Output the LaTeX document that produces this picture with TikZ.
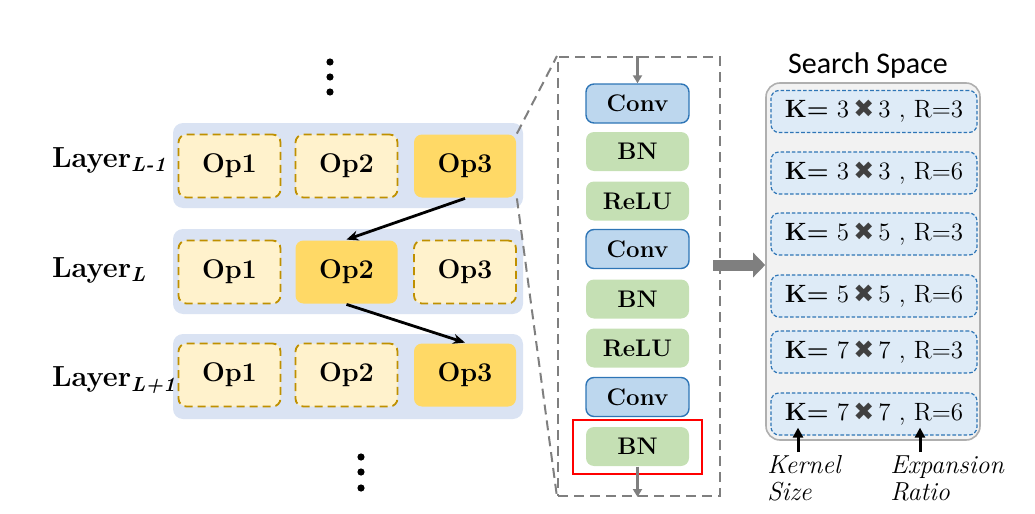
\documentclass[tikz,border=0pt]{standalone}
\usepackage{fontspec}
\newfontfamily\carlito{Carlito}
\newfontfamily\dejavu{DejaVu Sans}
\usetikzlibrary{arrows.meta}
\definecolor{layerbg}{HTML}{DAE3F3}
\definecolor{opfill}{HTML}{FFF2CC}
\definecolor{opline}{HTML}{BF9000}
\definecolor{opgold}{HTML}{FFD966}
\definecolor{convfill}{HTML}{BDD7EE}
\definecolor{convline}{HTML}{2E75B6}
\definecolor{bnfill}{HTML}{C5E0B4}
\definecolor{ssfill}{HTML}{F2F2F2}
\definecolor{ssline}{HTML}{AFAFAF}
\definecolor{itemfill}{HTML}{DEEBF7}
\definecolor{arrowgray}{HTML}{7F7F7F}
\newcommand{\ksr}[2]{\textbf{K=} #1\,{\dejavu\color{black!75}\fontsize{12.5}{14}\selectfont ✖}\,#1 , R=#2}
\begin{document}
\begin{tikzpicture}[x=0.5pt,y=-0.5pt,
    layer/.style={fill=layerbg,rounded corners=5pt,minimum width=175pt,minimum height=42.5pt},
    op/.style={draw=opline,dash pattern=on 4pt off 2.5pt,line width=0.9pt,fill=opfill,rounded corners=4pt,minimum width=51pt,minimum height=31.5pt,font=\bfseries\fontsize{13.5}{16}\selectfont},
    opsel/.style={op,draw=none,fill=opgold},
    lab/.style={anchor=west,font=\bfseries\fontsize{14.5}{18}\selectfont},
    conv/.style={draw=convline,line width=0.7pt,fill=convfill,rounded corners=4pt,minimum width=51.5pt,minimum height=19.5pt,font=\bfseries\fontsize{12}{14}\selectfont},
    bn/.style={conv,draw=none,fill=bnfill},
    item/.style={draw=convline,dash pattern=on 1.8pt off 1pt,line width=0.6pt,fill=itemfill,rounded corners=4pt,minimum width=103pt,minimum height=21pt,font=\fontsize{12.5}{15}\selectfont},
    pick/.style={-{Stealth[length=6pt,width=5pt]},line width=1.4pt},
    flow/.style={-{Triangle[length=4pt,width=4.5pt]},arrowgray,line width=1.4pt},
    uparrow/.style={-{Triangle[length=5pt,width=5pt]},line width=1.5pt}]
    \useasboundingbox (0,0) rectangle (1035,514);

    \foreach \y in {62,77,92} \fill (330,\y) circle (1.8pt);
    \foreach \y in {457,472,488} \fill (361,\y) circle (1.8pt);

    \node[layer] at (348,165.5) (row1) {};
    \node[layer] at (348,271.5) (row2) {};
    \node[layer] at (348,376.5) (row3) {};

    \node[op] at (229.5,166) (op11) {Op1};
    \node[op] at (346.5,166) (op12) {Op2};
    \node[opsel] at (465,166) (op13) {Op3};
    \node[op] at (229.5,272) (op21) {Op1};
    \node[opsel] at (346.5,272) (op22) {Op2};
    \node[op] at (465,272) (op23) {Op3};
    \node[op] at (229.5,375) (op31) {Op1};
    \node[op] at (346.5,375) (op32) {Op2};
    \node[opsel] at (465,375) (op33) {Op3};

    \node[lab] at (45,160) (lab1) {Layer\textsubscript{\textit{L-1}}};
    \node[lab] at (45,270) (lab2) {Layer\textsubscript{\textit{L}}};
    \node[lab] at (45,380) (lab3) {Layer\textsubscript{\textit{L+1}}};

    \draw[pick] (op13.south) -- (op22.north);
    \draw[pick] (op22.south) -- (op33.north);

    \node[draw=arrowgray,line width=1pt,dash pattern=on 5pt off 3pt,minimum width=81pt,minimum height=219.5pt] at (639,276.5) (blockbox) {};
    \draw[arrowgray,line width=1pt,dash pattern=on 5pt off 3pt] (op13.north east) -- (blockbox.north west);
    \draw[arrowgray,line width=1pt,dash pattern=on 5pt off 3pt] (op13.south east) -- (blockbox.south west);

    \node[conv] at (637.5,103.5) (conv1) {Conv};
    \node[bn] at (637.5,151.5) (bn1) {BN};
    \node[bn] at (637.5,201) (relu1) {ReLU};
    \node[conv] at (637.5,249) (conv2) {Conv};
    \node[bn] at (637.5,299) (bn2) {BN};
    \node[bn] at (637.5,348) (relu2) {ReLU};
    \node[conv] at (637.5,397) (conv3) {Conv};
    \node[bn] at (637.5,446.5) (bn3) {BN};
    \node[draw=red,line width=0.8pt,minimum width=64.5pt,minimum height=27pt] at (637.5,447) (bnmark) {};

    \draw[flow] (conv1.north |- blockbox.north) -- (conv1.north);
    \draw[flow] (bn3.south) -- (bn3.south |- blockbox.south);

    \node[draw=ssline,line width=0.8pt,fill=ssfill,rounded corners=7pt,minimum width=107pt,minimum height=178.5pt] at (873,261.5) (ssbox) {};
    \node[font=\carlito\fontsize{15}{18}\selectfont] at (868,66) (sstitle) {Search Space};

    \coordinate (arrowin) at (713,265);
    \draw[arrowgray,line width=5.5pt,-{Triangle[length=6pt,width=12pt]}] (arrowin) -- (ssbox.west |- arrowin);

    \node[item] at (874,111.5) (item1) {\ksr{3}{3}};
    \node[item] at (874,173) (item2) {\ksr{3}{6}};
    \node[item] at (874,234) (item3) {\ksr{5}{3}};
    \node[item] at (874,296) (item4) {\ksr{5}{6}};
    \node[item] at (874,352) (item5) {\ksr{7}{3}};
    \node[item] at (874,414) (item6) {\ksr{7}{6}};

    \coordinate (kfoot) at (798,452);
    \coordinate (rfoot) at (920,452);
    \draw[uparrow,shorten >=-4pt] (kfoot) -- (kfoot |- item6.south);
    \draw[uparrow,shorten >=-4pt] (rfoot) -- (rfoot |- item6.south);
    \node[anchor=north west,align=left,inner sep=0pt,font=\itshape\fontsize{13}{13.5}\selectfont] at (767,455) (klab) {Kernel\\Size};
    \node[anchor=north west,align=left,inner sep=0pt,font=\itshape\fontsize{13}{13.5}\selectfont] at (890,455) (rlab) {Expansion\\Ratio};
\end{tikzpicture}
\end{document}
